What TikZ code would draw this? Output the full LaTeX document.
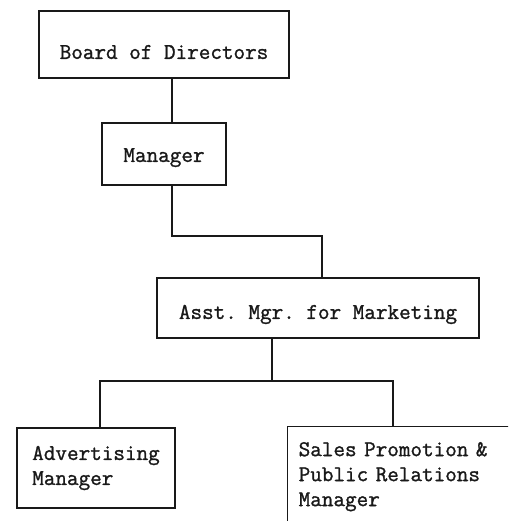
\documentclass[tikz,border=0pt]{standalone}
\usepackage{fontspec}
\setmonofont{Latin Modern Mono}[FakeBold=1.2]
\begin{document}
\begin{tikzpicture}[x=1pt,y=-1pt,
  every node/.style={font=\ttfamily\fontsize{22.5}{25}\selectfont, text=black!90},
  box/.style={draw=black!90, line width=1.4pt, inner sep=0pt},
  conn/.style={draw=black!90, line width=1.4pt}]
\useasboundingbox (0,0) rectangle (508,521);
\clip (0,0) rectangle (508,521);
\fill[white] (0,0) rectangle (508,521);
\node[box, minimum width=250pt, minimum height=67pt, text height=28.8pt, text depth=0pt] (board) at (164,44.5) {Board of Directors};
\node[box, minimum width=124pt, minimum height=62pt, text height=15.8pt, text depth=0pt] (man) at (164,154) {Manager};
\node[box, minimum width=322pt, minimum height=60pt, text height=21.8pt, text depth=0pt] (asst) at (318,308) {Asst. Mgr. for Marketing};
\node[box, minimum width=158pt, minimum height=80pt, align=left] (adv) at (96,468) {Advertising\\Manager};
\node[box, anchor=north west, minimum height=100pt, inner xsep=11pt, text width=238pt, align=left] (sales) at (287,426) {Sales Promotion \&\\Public Relations\\Manager};
\coordinate (j1) at (172,236);
\coordinate (j2) at (322,236);
\coordinate (j3) at (272,381);
\coordinate (jl) at (100,381);
\coordinate (jr) at (393,381);
\draw[conn] (board.south -| j1) -- (man.north -| j1);
\draw[conn] (man.south -| j1) -- (j1) -- (j2) -- (asst.north -| j2);
\draw[conn] (asst.south -| j3) -- (j3);
\draw[conn] (adv.north -| jl) -- (jl) -- (jr) -- (sales.north -| jr);
\end{tikzpicture}
\end{document}
